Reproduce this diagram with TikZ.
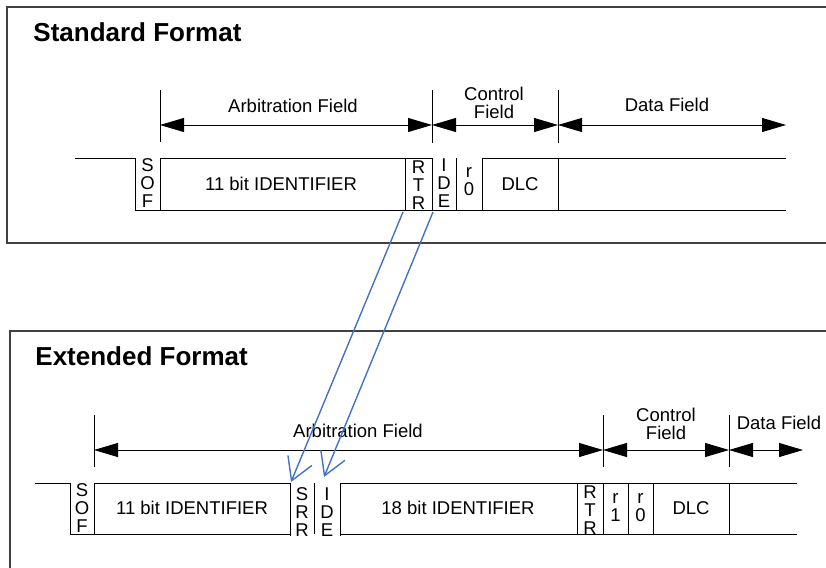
\documentclass[tikz,border=0pt]{standalone}
\usepackage{fontspec}
\setmainfont{Liberation Sans}
\usetikzlibrary{arrows.meta}
\definecolor{linkblue}{RGB}{68,114,196}

\begin{document}
\begin{tikzpicture}[x=1pt, y=-1pt, font=\fontsize{18.5}{18}\selectfont, line width=0.9pt,
    dim/.style={{Triangle[length=24pt,width=14pt]}-{Triangle[length=24pt,width=14pt]}},
    bits/.style={align=center, inner sep=0pt},
    title/.style={anchor=west, inner sep=0pt, font=\fontsize{26}{28}\selectfont\bfseries},
    link/.style={linkblue, line width=1.4pt, -{Straight Barb[length=22pt,width=26pt]}}]
  \useasboundingbox (0,0) rectangle (826,567);
  % pixel grid of the reference: x to the right, y downwards
  \draw[line width=1.4pt, black!75] (830,7) -- (7,7) -- (7,243) -- (830,243);
  \draw[line width=1.4pt, black!75] (830,331) -- (10,331) -- (10,570);
  \node[title] (stdT) at (33,32) {Standard Format};
  \node[title] (extT) at (35,356) {Extended Format};

  % standard frame: field spans
  \draw (160,90) -- (160,142) (432,90) -- (432,143) (558,90) -- (558,143);
  \draw[dim] (160,125) -- (432,125);
  \draw[dim] (432,125) -- (558,125);
  \draw[dim] (558,125) -- (786,125);
  \node (arbS) at (293,106) {Arbitration Field};
  \node[bits] (ctlS) at (494,103) {Control\\Field};
  \node (datS) at (667,105) {Data Field};

  % standard frame: bits
  \draw (75,158) -- (135,158) -- (135,210) -- (786,210);
  \draw (160,210) -- (160,158) -- (432,158) -- (432,210);
  \draw (405,158) -- (405,210) (456,158) -- (456,210);
  \draw (786,158) -- (482,158) -- (482,210) (558,158) -- (558,210);
  \node[bits] (sofS) at (147.5,183) {S\\O\\F};
  \node (idS) at (281,184) {11 bit IDENTIFIER};
  \node[bits] (rtrS) at (418.5,185) {R\\T\\R};
  \node[bits] (ideS) at (444,183) {I\\D\\E};
  \node[bits] (r0S) at (469,182) {r\\0};
  \node (dlcS) at (520,184) {DLC};

  % extended frame: field spans
  \draw (94,415) -- (94,467) (603,415) -- (603,467) (729,415) -- (729,467);
  \draw[dim] (94,450) -- (603,450);
  \draw[dim] (603,450) -- (729,450);
  \draw[dim] (729,450) -- (803,450);
  \node (arbE) at (358,431) {Arbitration Field};
  \node[bits] (ctlE) at (666,424) {Control\\Field};
  \node (datE) at (779,423) {Data Field};

  % extended frame: bits
  \draw (35,483) -- (70,483) -- (70,534) -- (290,534);
  \draw (94,534) -- (94,483) -- (290,483) -- (290,536) (314,483) -- (314,534);
  \draw (340,536) -- (340,483) -- (797,483) (340,534) -- (797,534);
  \draw (577,483) -- (577,534) (603,483) -- (603,534) (628,483) -- (628,534)
        (653,483) -- (653,534) (729,483) -- (729,534);
  \node[bits] (sofE) at (82,508) {S\\O\\F};
  \node (idE) at (192,508) {11 bit IDENTIFIER};
  \node[bits] (srrE) at (302,512) {S\\R\\R};
  \node[bits] (ideE) at (327,512) {I\\D\\E};
  \node (id2E) at (458,508) {18 bit IDENTIFIER};
  \node[bits] (rtrE) at (590,510) {R\\T\\R};
  \node[bits] (r1E) at (615.5,508) {r\\1};
  \node[bits] (r0E) at (640.5,508) {r\\0};
  \node (dlcE) at (691,508) {DLC};

  % where the bits went
  \coordinate (rtrFoot) at (403,212);
  \coordinate (ideFoot) at (433,212);
  \coordinate (srrTop) at (291,482);
  \coordinate (ideTop) at (324,477);
  \draw[link] (rtrFoot) -- (srrTop);
  \draw[link] (ideFoot) -- (ideTop);
\end{tikzpicture}
\end{document}
